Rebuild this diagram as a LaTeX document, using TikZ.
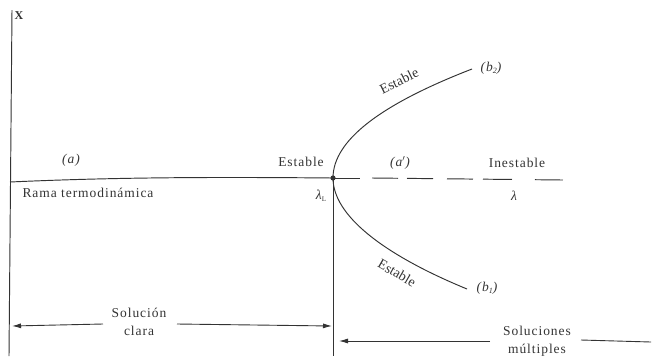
\documentclass[tikz,border=0pt]{standalone}
\usepackage{fontspec}
\setmainfont[LetterSpace=7]{Liberation Serif}
\newfontfamily\plainserif{Liberation Serif}
\usetikzlibrary{arrows.meta}
\definecolor{ink}{HTML}{333333}
\tikzset{
  curve/.style={draw=ink, line width=0.95pt},
  lbl/.style={text=ink, font=\fontsize{13.5}{15}\selectfont, inner sep=0pt},
  ilbl/.style={lbl, font=\fontsize{13.5}{15}\selectfont\itshape},
  rlbl/.style={lbl, font=\plainserif\fontsize{14}{15}\selectfont},
  arr/.style={draw=ink, line width=0.9pt, -{Latex[length=9pt,width=5pt]}},
}
\begin{document}
\begin{tikzpicture}[x=1pt,y=-1pt]
\useasboundingbox (0,0) rectangle (656,360);
% axes and vertical line
\coordinate (axtop) at (12,10);
\coordinate (axbot) at (9,356);
\coordinate (bif) at (333,178);
\coordinate (vbot) at (333,356);
\draw[curve] (axtop) -- (axbot);
\draw[curve] (bif) -- (vbot);
% thermodynamic branch
\coordinate (tleft) at (10,182);
\draw[curve] (tleft) .. controls (120,177) and (220,177) .. (bif);
% unstable continuation
\coordinate (s1) at (360,178);
\coordinate (d0) at (372,178);
\coordinate (d1) at (563,180);
\draw[curve] (bif) -- (s1);
\draw[curve, dash pattern=on 26pt off 9pt on 26pt off 14pt on 26pt off 10pt on 29pt off 23pt on 28pt off 100pt] (d0) -- (d1);
% bifurcating branches
\coordinate (b2end) at (472,69);
\coordinate (b1end) at (467,289);
\draw[curve] (bif) .. controls (333,141) and (379,105) .. (b2end);
\draw[curve] (bif) .. controls (333,215) and (382,254) .. (b1end);
\fill[ink] (bif) circle (2.6pt);
% labels
\node[lbl, font=\fontsize{12}{14}\selectfont\bfseries] (X) at (19,16) {X};
\node[ilbl] (a) at (71,160) {(a)};
\node[lbl] (rama) at (88,193) {Rama termodinámica};
\node[lbl] (est0) at (301,162) {Estable};
\node[ilbl] (ap) at (400,163) {(a$'$)};
\node[lbl] (inest) at (517,163) {Inestable};
\node[ilbl] (lam) at (514,196) {λ};
\node[ilbl] (lamL) at (321,196) {λ\raisebox{-2pt}{\fontsize{7}{8}\selectfont\upshape L}};
\node[ilbl] (b2) at (491,68) {(b\raisebox{-2pt}{\fontsize{8}{8}\selectfont 2})};
\node[ilbl] (b1) at (487,288) {(b\raisebox{-2pt}{\fontsize{8}{8}\selectfont 1})};
\node[rlbl, rotate=26] (estU) at (399,81) {Estable};
\node[rlbl, rotate=-30] (estL) at (397,273) {Estable};
\node[lbl, align=center] (sc) at (139,322) {Solución\\[3pt]clara};
\node[lbl, align=center] (sm) at (537,341) {Soluciones\\[3pt]múltiples};
% arrows
\coordinate (scL) at (12,326);
\coordinate (scR) at (332,326);
\coordinate (smL) at (339,341);
\coordinate (smR) at (651,342);
\draw[arr] (103,324) -- (scL);
\draw[arr] (177,324) -- (scR);
\draw[arr] (490,341) -- (smL);
\draw[curve, line width=0.9pt] (581,340) -- (smR);
\end{tikzpicture}
\end{document}
